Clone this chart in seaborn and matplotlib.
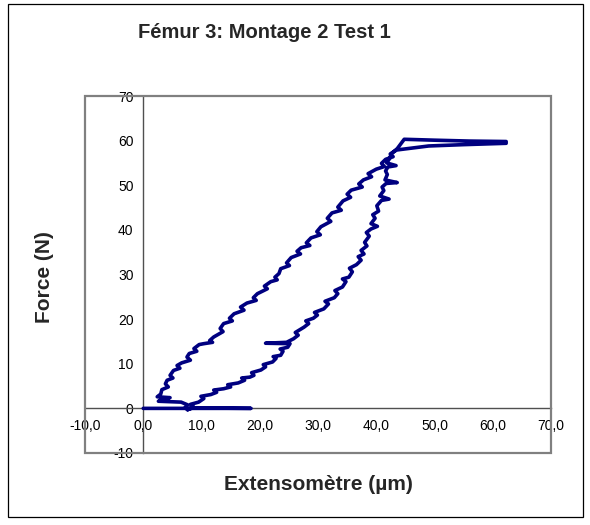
import matplotlib
matplotlib.use("Agg")
import matplotlib.pyplot as plt
from matplotlib.patches import Rectangle
import seaborn as sns
import pandas as pd

# ---- data ----
zero_x = [0.0, 18.5, 8.5]
zero_y = [0.0, 0.0, 0.1]

load_x = [7.6, 8.6, 8.1, 9.5, 10.4, 9.9, 11.6, 12.6, 12.1, 13.8, 15.0, 14.5, 16.3, 17.4, 16.9,
          18.3, 19.0, 18.6, 20.2, 21.0, 20.6, 22.2, 22.8, 22.3, 23.6, 24.0, 23.5, 24.8, 25.2,
          21.0, 24.6, 25.8, 26.6, 26.1, 27.6, 28.4, 27.9, 29.2, 29.9, 29.4, 31.0, 31.8, 31.2,
          32.8, 33.4, 32.9, 34.2, 34.8, 34.2, 35.3, 35.9, 35.4, 36.6, 37.4, 36.9, 37.9, 37.4,
          38.4, 38.0, 38.8, 38.3, 39.1, 40.2, 39.1, 39.8, 39.4, 40.4, 40.1, 40.9, 42.2, 40.6,
          41.3, 41.0, 41.7, 43.6, 41.5, 41.9, 41.6, 42.0, 43.4, 41.8, 42.3, 42.6, 43.6, 44.8]
load_y = [-0.3, 0.4, 0.9, 1.4, 2.2, 2.7, 3.1, 3.6, 4.1, 4.4, 4.8, 5.3, 5.7, 6.3, 6.8,
          7.0, 7.4, 8.0, 8.6, 9.3, 9.8, 10.4, 11.2, 11.6, 11.9, 12.8, 13.3, 13.7, 14.5,
          14.6, 14.8, 15.6, 16.4, 17.0, 18.2, 19.0, 19.6, 20.2, 20.9, 21.5, 22.3, 23.4, 24.0,
          24.8, 25.7, 26.4, 27.2, 28.4, 29.0, 29.4, 30.6, 31.4, 32.2, 33.2, 34.0, 34.6, 35.4,
          36.4, 37.2, 38.6, 39.4, 40.2, 40.8, 41.4, 42.6, 43.4, 44.2, 45.4, 46.6, 46.9, 47.6,
          48.8, 49.6, 50.4, 50.6, 51.2, 52.4, 53.2, 54.1, 54.4, 55.0, 56.0, 57.1, 58.2, 60.3]

hold_x = [50.0, 56.0, 62.3, 62.3, 55.0, 49.0, 43.5]
hold_y = [60.1, 59.9, 59.8, 59.4, 59.1, 58.8, 57.9]

unload_x = [42.4, 42.9, 41.6, 40.9, 41.4, 40.0, 38.6, 39.2, 37.8, 37.0, 37.6, 35.7, 35.0, 35.6,
            34.3, 33.4, 34.0, 32.4, 31.6, 32.2, 30.5, 29.8, 30.4, 28.8, 28.0, 28.6, 27.1, 26.4,
            27.0, 25.4, 24.6, 25.1, 23.6, 23.3, 22.6, 23.0, 21.9, 20.8, 21.3, 19.6, 18.9, 19.4,
            17.8, 16.7, 17.3, 15.6, 14.8, 15.3, 13.8, 13.2, 13.7, 12.1, 11.4, 11.9, 10.4, 9.6,
            8.7, 9.2, 7.9, 7.5, 8.1, 6.6, 5.8, 6.3, 5.2, 4.6, 5.1, 4.1, 3.8, 4.3, 3.2, 3.0,
            2.4, 4.6, 3.2, 2.6, 6.5, 7.6, 7.2, 7.6]
unload_y = [57.0, 56.4, 55.8, 54.9, 54.2, 53.6, 52.6, 51.9, 51.2, 50.3, 49.6, 48.9, 48.0, 47.3,
            46.5, 45.1, 44.4, 43.8, 42.6, 41.9, 40.7, 39.6, 38.9, 38.2, 37.1, 36.5, 36.0, 35.2,
            34.6, 33.8, 32.6, 32.0, 31.3, 30.2, 29.4, 28.8, 28.4, 27.4, 26.8, 25.7, 24.8, 24.2,
            23.6, 22.7, 22.0, 21.2, 20.2, 19.6, 19.0, 17.9, 17.2, 16.0, 15.2, 14.8, 14.5, 14.3,
            13.4, 12.8, 12.3, 11.5, 10.8, 10.2, 9.6, 9.0, 8.5, 7.4, 6.8, 6.3, 5.5, 4.8, 4.2, 3.2,
            2.6, 2.4, 2.0, 1.6, 1.4, 0.8, 0.2, -0.3]

xticks = [-10, 0, 10, 20, 30, 40, 50, 60, 70]
xtick_labels = ["-10,0", "0,0", "10,0", "20,0", "30,0", "40,0", "50,0", "60,0", "70,0"]
yticks = [-10, 0, 10, 20, 30, 40, 50, 60, 70]
ytick_labels = ["-10", "0", "10", "20", "30", "40", "50", "60", "70"]

title = "Fémur 3: Montage 2 Test 1"
xlabel = "Extensomètre (µm)"
ylabel = "Force (N)"

xs = zero_x + load_x + hold_x + unload_x
ys = zero_y + load_y + hold_y + unload_y
df = pd.DataFrame({"x": xs, "y": ys})

# ---- figure ----
sns.set_style("white")
plt.rcParams["font.family"] = ["Liberation Sans", "DejaVu Sans"]

W, H = 590, 525
fig = plt.figure(figsize=(W / 100, H / 100), dpi=100)
fig.patch.set_facecolor("white")

L, R, T, B = 85, 551, 96, 453
ax = fig.add_axes([L / W, 1 - B / H, (R - L) / W, (B - T) / H])
ax.set_facecolor("white")

sns.lineplot(data=df, x="x", y="y", sort=False, estimator=None, color="#000080",
             linewidth=2.6, ax=ax, legend=False)

ax.set_xlim(-10, 70)
ax.set_ylim(-10, 70)
ax.set_xticks(xticks)
ax.set_xticklabels(xtick_labels)
ax.set_yticks(yticks)
ax.set_yticklabels(ytick_labels)
ax.set_xlabel("")
ax.set_ylabel("")

for s in ["top", "right"]:
    ax.spines[s].set_visible(False)
for s in ["left", "bottom"]:
    ax.spines[s].set_position(("data", 0))
    ax.spines[s].set_color("#505050")
    ax.spines[s].set_linewidth(1.0)
    ax.spines[s].set_zorder(1)

ax.tick_params(axis="both", direction="out", length=3, width=1, color="#505050",
               labelsize=10, labelcolor="black")
ax.tick_params(axis="x", pad=5)
ax.tick_params(axis="y", pad=4)

# grey plot-area frame
ax.add_patch(Rectangle((0, 0), 1, 1, transform=ax.transAxes, fill=False,
                       edgecolor="#808080", linewidth=1.6, clip_on=False, zorder=5))

# outer chart border
fig.patches.append(Rectangle((8 / W, 1 - 517 / H), (583 - 8) / W, (517 - 4) / H,
                             transform=fig.transFigure, fill=False, edgecolor="black",
                             linewidth=0.9))

fig.text(264 / W, 1 - 33 / H, title, ha="center", va="center", fontsize=14.5,
         fontweight="bold")
fig.text(318 / W, 1 - 484 / H, xlabel, ha="center", va="center", fontsize=15,
         fontweight="bold")
fig.text(45 / W, 1 - 277 / H, ylabel, ha="center", va="center", fontsize=15,
         fontweight="bold", rotation=90)

fig.savefig("out.png", dpi=100, facecolor="white")
